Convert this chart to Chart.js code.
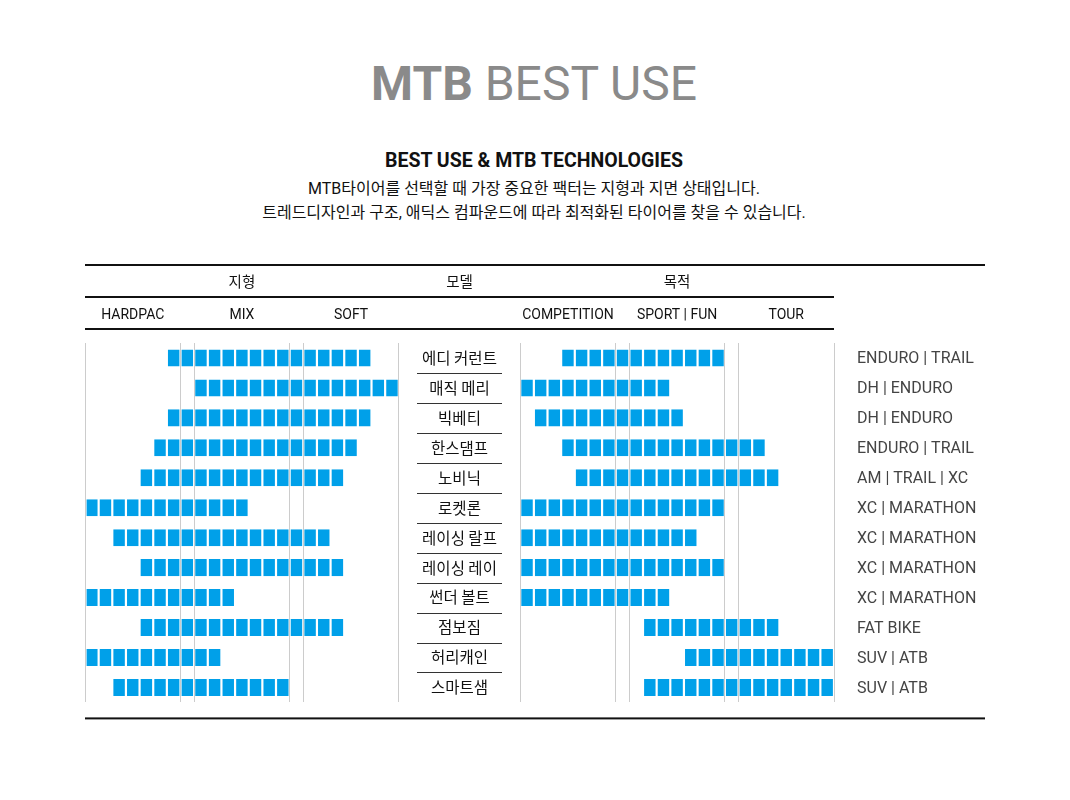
<!DOCTYPE html>
<html lang="ko">
<head>
<meta charset="utf-8">
<title>MTB BEST USE</title>
<script src="https://cdn.jsdelivr.net/npm/chart.js@4.4.1/dist/chart.umd.min.js"></script>
<style>
  body { margin: 0; background: #fff; font-family: Roboto, "Noto Sans CJK KR", sans-serif; }
  #page { position: relative; width: 1070px; height: 800px; overflow: hidden; }
  .txt { position: absolute; white-space: nowrap; transform: translateX(-50%); text-align: center; }
  #chartBox { position: absolute; left: 0; top: 250px; width: 1070px; height: 485px; }
</style>
</head>
<body>
<div id="page">
  <div class="txt" style="left:534px; top:60px; font-size:48px; line-height:48px; color:#8a8a8a;"><b>MTB</b> BEST USE</div>
  <div class="txt" style="left:534px; top:150px; font-size:19.5px; line-height:22px; font-weight:700; color:#111;">BEST USE &amp; MTB TECHNOLOGIES</div>
  <div class="txt" style="left:534px; top:178px; font-size:16px; line-height:22px; color:#111;">MTB타이어를 선택할 때 가장 중요한 팩터는 지형과 지면 상태입니다.</div>
  <div class="txt" style="left:534px; top:202px; font-size:16px; line-height:22px; color:#111;">트레드디자인과 구조, 애딕스 컴파운드에 따라 최적화된 타이어를 찾을 수 있습니다.</div>
  <div id="chartBox"><canvas id="bestUseChart"></canvas></div>
</div>

<script>
// ===== DATA =====
const tireNames = ['에디 커런트', '매직 메리', '빅베티', '한스댐프', '노비닉', '로켓론',
                   '레이싱 랄프', '레이싱 레이', '썬더 볼트', '점보짐', '허리캐인', '스마트샘'];
const useLabels = ['ENDURO | TRAIL', 'DH | ENDURO', 'DH | ENDURO', 'ENDURO | TRAIL', 'AM | TRAIL | XC',
                   'XC | MARATHON', 'XC | MARATHON', 'XC | MARATHON', 'XC | MARATHON', 'FAT BIKE',
                   'SUV | ATB', 'SUV | ATB'];

// first / last filled cell (0..22) per tire
const terrainFrom = [6, 8, 6, 5, 4, 0, 2, 4, 0, 4, 0, 2];
const terrainTo   = [20, 22, 20, 19, 18, 11, 17, 18, 10, 18, 9, 14];
const purposeFrom = [3, 0, 1, 3, 4, 0, 0, 0, 0, 9, 12, 9];
const purposeTo   = [14, 10, 11, 17, 18, 14, 12, 14, 10, 18, 22, 22];

const groupTitles = ['지형', '모델', '목적'];
const terrainLabels = ['HARDPAC', 'MIX', 'SOFT'];
const purposeLabels = ['COMPETITION', 'SPORT | FUN', 'TOUR'];

// ===== LAYOUT =====
const sectionCells = 7;          // cells per section
const panelCells = 23;           // 7 + 1 + 7 + 1 + 7
const gapCells = 8.9;            // name column between both panels
const rightStart = panelCells + gapCells;
const blue = '#00a0e9';

// section boundaries -> gray grid lines
const boundaries = [0, 7, 8, 15, 16, 23];
const gridValues = boundaries.concat(boundaries.map(v => v + rightStart));

// one dataset per cell, so every block is its own bar
function cellDatasets(from, to, base) {
    const sets = [];
    for (let c = 0; c < panelCells; c++) {
        sets.push({
            data: tireNames.map((_, i) => (c >= from[i] && c <= to[i]) ? [base + c, base + c + 1] : null),
            backgroundColor: blue,
            borderColor: 'rgba(0,0,0,0)',
            borderWidth: { left: 1.1, right: 1.1, top: 0, bottom: 0 },
            borderSkipped: false,
            inflateAmount: 0,
            grouped: false,
            barPercentage: 0.57,
            categoryPercentage: 1
        });
    }
    return sets;
}

const datasets = cellDatasets(terrainFrom, terrainTo, 0)
    .concat(cellDatasets(purposeFrom, purposeTo, rightStart));

// header, names and rules around the grid
const tablePlugin = {
    id: 'tireTable',
    afterDraw(chart) {
        const { ctx, chartArea: area, scales: { x, y } } = chart;
        const px = v => x.getPixelForValue(v);
        const midX = (px(panelCells) + px(rightStart)) / 2;

        ctx.save();
        ctx.fillStyle = '#111';
        ctx.fillRect(area.left, area.top - 79, 900, 2);
        ctx.fillRect(area.left, area.top - 47, area.right - area.left, 2);
        ctx.fillRect(area.left, area.top - 15, area.right - area.left, 2);
        ctx.fillRect(area.left, area.bottom + 15, 900, 2);

        ctx.textAlign = 'center';
        ctx.textBaseline = 'middle';
        ctx.fillStyle = '#111';

        // group titles
        ctx.font = '14.5px "Noto Sans CJK KR"';
        ctx.fillText(groupTitles[0], px(panelCells / 2), area.top - 62);
        ctx.fillText(groupTitles[1], midX, area.top - 62);
        ctx.fillText(groupTitles[2], px(rightStart + panelCells / 2), area.top - 62);

        // section labels
        ctx.font = '14px Roboto';
        for (let s = 0; s < 3; s++) {
            const c = s * (sectionCells + 1) + sectionCells / 2;
            ctx.fillText(terrainLabels[s], px(c), area.top - 28);
            ctx.fillText(purposeLabels[s], px(rightStart + c), area.top - 28);
        }

        // tire names with separators
        ctx.font = '15.5px "Noto Sans CJK KR"';
        ctx.strokeStyle = '#333';
        ctx.lineWidth = 1;
        const rowH = (area.bottom - area.top) / tireNames.length;
        tireNames.forEach((name, i) => {
            const cy = y.getPixelForValue(i);
            ctx.fillText(name, midX, cy);
            if (i < tireNames.length - 1) {
                const ly = Math.round(cy + rowH / 2) + 0.5;
                ctx.beginPath();
                ctx.moveTo(midX - 42.5, ly);
                ctx.lineTo(midX + 42.5, ly);
                ctx.stroke();
            }
        });
        ctx.restore();
    }
};

new Chart(document.getElementById('bestUseChart'), {
    type: 'bar',
    data: { labels: tireNames, datasets: datasets },
    plugins: [tablePlugin],
    options: {
        indexAxis: 'y',
        responsive: true,
        maintainAspectRatio: false,
        animation: false,
        layout: { padding: { left: 85, right: 0, top: 93, bottom: 20 } },
        plugins: {
            legend: { display: false },
            tooltip: { enabled: false }
        },
        scales: {
            x: {
                type: 'linear',
                min: 0,
                max: panelCells * 2 + gapCells,
                afterBuildTicks: scale => { scale.ticks = gridValues.map(v => ({ value: v })); },
                afterFit: scale => { scale.height = 0; },
                ticks: { display: false },
                grid: { color: '#cccccc', lineWidth: 1, drawTicks: false },
                border: { display: false }
            },
            y: {
                position: 'right',
                afterFit: scale => { scale.width = 236; },
                grid: { display: false, drawTicks: false },
                border: { display: false },
                ticks: {
                    padding: 23,
                    labelOffset: 1.5,
                    color: '#444',
                    font: { family: 'Roboto', size: 16 },
                    callback: (value, index) => useLabels[index]
                }
            }
        }
    }
});
</script>
</body>
</html>
